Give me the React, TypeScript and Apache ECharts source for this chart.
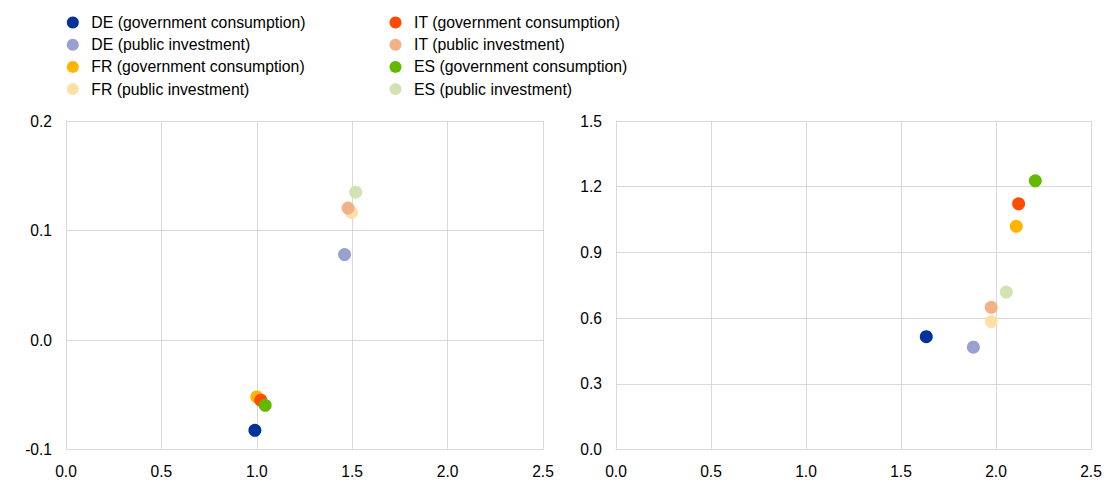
import React, { useEffect, useRef } from "react";
import * as echarts from "echarts";

const seriesNames = [
  "DE (government consumption)",
  "DE (public investment)",
  "FR (government consumption)",
  "FR (public investment)",
  "IT (government consumption)",
  "IT (public investment)",
  "ES (government consumption)",
  "ES (public investment)",
];
const seriesColors = [
  "#003299",
  "#98A1D0",
  "#FFB400",
  "#FFDFA6",
  "#FF4B00",
  "#F5B088",
  "#65B800",
  "#D2E3B3",
];
// left panel [x, y]
const leftPoints: number[][] = [
  [0.99, -0.0825],
  [1.46, 0.078],
  [1.0, -0.052],
  [1.496, 0.1165],
  [1.021, -0.055],
  [1.478, 0.1205],
  [1.044, -0.0597],
  [1.518, 0.135],
];
// right panel [x, y]
const rightPoints: number[][] = [
  [1.633, 0.515],
  [1.881, 0.467],
  [2.107, 1.019],
  [1.975, 0.584],
  [2.119, 1.122],
  [1.975, 0.649],
  [2.207, 1.227],
  [2.054, 0.719],
];
const xTicks = { min: 0, max: 2.5, interval: 0.5 };
const leftY = { min: -0.1, max: 0.2, interval: 0.1 };
const rightY = { min: 0, max: 1.5, interval: 0.3 };

const gridColor = "#D9D9D9";
const font = "'Liberation Sans', Arial, sans-serif";

export default function App() {
  const ref = useRef<HTMLDivElement>(null);
  useEffect(() => {
    if (!ref.current) return;
    const chart = echarts.init(ref.current, undefined, { renderer: "svg" });
    const axisCommon = {
      axisLine: { show: true, lineStyle: { color: gridColor } },
      axisTick: { show: false },
      splitLine: { show: true, lineStyle: { color: gridColor } },
      axisLabel: { color: "#000", fontSize: 15.6, fontFamily: font, margin: 14 },
    };
    const xAxis = [0, 1].map((g) => ({
      type: "value",
      gridIndex: g,
      min: xTicks.min,
      max: xTicks.max,
      interval: xTicks.interval,
      ...axisCommon,
      axisLabel: {
        ...axisCommon.axisLabel,
        formatter: (v: number) => v.toFixed(1),
      },
    }));
    const yAxis = [leftY, rightY].map((r, g) => ({
      type: "value",
      gridIndex: g,
      min: r.min,
      max: r.max,
      interval: r.interval,
      ...axisCommon,
      axisLabel: {
        ...axisCommon.axisLabel,
        margin: 14,
        formatter: (v: number) => (Math.round(v * 10) / 10).toFixed(1),
      },
    }));
    const series: any[] = [];
    [leftPoints, rightPoints].forEach((pts, g) => {
      seriesNames.forEach((name, i) => {
        series.push({
          type: "scatter",
          name,
          xAxisIndex: g,
          yAxisIndex: g,
          symbol: "circle",
          symbolSize: 13,
          itemStyle: { color: seriesColors[i], opacity: 1 },
          data: [pts[i]],
          z: 2,
        });
      });
    });
    const legendCommon = {
      orient: "vertical",
      top: 14.5,
      itemWidth: 27,
      itemHeight: 12,
      itemGap: 6.2,
      icon: "circle",
      textStyle: { color: "#000", fontSize: 15.8, lineHeight: 16, fontFamily: font },
      padding: 0,
    };
    chart.setOption({
      animation: false,
      textStyle: { fontFamily: font },
      grid: [
        { left: 66, width: 477, top: 121, bottom: 31.5 },
        { left: 616, width: 475, top: 121, bottom: 31.5 },
      ],
      legend: [
        { ...legendCommon, left: 66.8, data: seriesNames.slice(0, 4) },
        { ...legendCommon, left: 389.5, data: seriesNames.slice(4, 8) },
      ],
      xAxis,
      yAxis,
      series,
    });
    return () => chart.dispose();
  }, []);
  return (
    <div
      ref={ref}
      style={{ position: "absolute", left: 0, top: 0, width: 1106, height: 481 }}
    />
  );
}
